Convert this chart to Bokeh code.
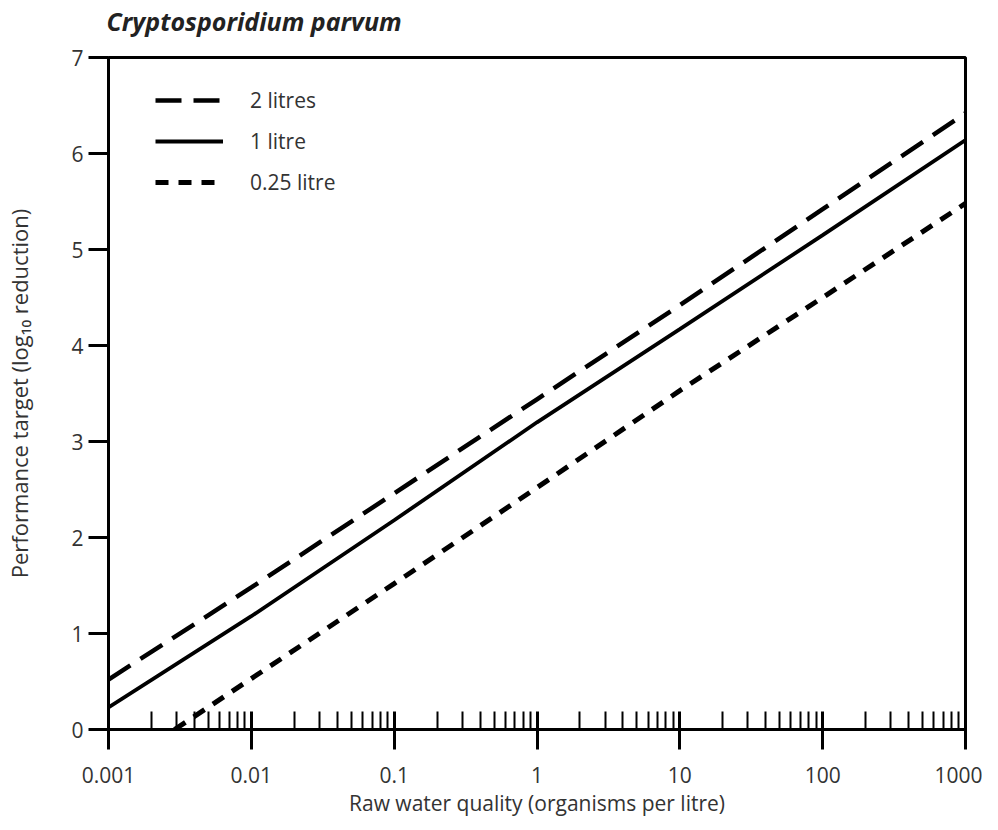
from bokeh.plotting import figure
from bokeh.models import FixedTicker, Legend, LegendItem, Range1d, Title
from bokeh.embed import file_html
from bokeh.resources import INLINE

# ---- data ----
x_decades = [0.001, 0.01, 0.1, 1, 10, 100, 1000]
y_2l = [0.52, 1.48, 2.46, 3.44, 4.42, 5.42, 6.42]
y_1l = [0.23, 1.18, 2.18, 3.20, 4.17, 5.15, 6.14]
x_025 = [0.0029, 0.01, 0.1, 1, 10, 100, 1000]
y_025 = [0.0, 0.53, 1.52, 2.52, 3.53, 4.50, 5.48]

title_text = "Cryptosporidium parvum"
series_labels = ["2 litres", "1 litre", "0.25 litre"]
x_tick_values = [0.001, 0.01, 0.1, 1, 10, 100, 1000]
x_tick_labels = ["0.001", "0.01", "0.1", "1", "10", "100", "1000"]
x_minor_mults = [2, 3, 4, 5, 6, 7, 8, 9]
y_tick_values = [0, 1, 2, 3, 4, 5, 6, 7]

FONT = "Open Sans"
TXT = "#333333"

p = figure(width=982, height=819, x_axis_type="log",
           x_range=Range1d(0.001, 1000), y_range=Range1d(0, 7),
           output_backend="svg", toolbar_location=None,
           min_border_left=108, min_border_right=17,
           min_border_top=57, min_border_bottom=90,
           title=title_text)

p.title.text_font = FONT
p.title.text_font_style = "bold italic"
p.title.text_font_size = "25px"
p.title.text_color = "#222222"
p.title.align = "left"
p.title.offset = -2
p.title.standoff = 0

# small empty spacer between the title and the plot frame
p.add_layout(Title(text=" ", text_font_size="8px", standoff=9,
                   text_color="white"), "above")

p.grid.visible = False
p.outline_line_color = "black"
p.outline_line_width = 3
p.outline_line_alpha = 1
p.background_fill_color = "white"
p.border_fill_color = "white"

minor = [m * d for d in x_tick_values[:-1] for m in x_minor_mults]
xa = p.xaxis[0]
xa.ticker = FixedTicker(ticks=x_tick_values, minor_ticks=minor)
xa.major_label_overrides = {v: l for v, l in zip(x_tick_values, x_tick_labels)}
xa.axis_line_width = 3
xa.major_tick_line_width = 3
xa.minor_tick_line_width = 2
xa.major_tick_in = 18
xa.major_tick_out = 20
xa.minor_tick_in = 18
xa.minor_tick_out = 0
xa.major_label_standoff = 17
xa.major_label_text_font = FONT
xa.major_label_text_font_size = "21px"
xa.major_label_text_color = TXT
xa.axis_label = "Raw water quality (organisms per litre)"
xa.axis_label_text_font = FONT
xa.axis_label_text_font_style = "normal"
xa.axis_label_text_font_size = "21px"
xa.axis_label_text_color = TXT
xa.axis_label_standoff = 3

ya = p.yaxis[0]
ya.ticker = FixedTicker(ticks=y_tick_values)
ya.axis_line_width = 3
ya.major_tick_line_width = 3
ya.major_tick_in = 0
ya.major_tick_out = 20
ya.minor_tick_line_color = None
ya.major_label_standoff = 5
ya.major_label_text_font = FONT
ya.major_label_text_font_size = "21px"
ya.major_label_text_color = TXT
ya.axis_label = "Performance target (log\u2081\u2080 reduction)"
ya.axis_label_text_font = FONT
ya.axis_label_text_font_style = "normal"
ya.axis_label_text_font_size = "22px"
ya.axis_label_text_color = TXT
ya.axis_label_standoff = 34

r2 = p.line(x_decades, y_2l, line_color="black", line_width=4.5, line_dash="26 12")
r1 = p.line(x_decades, y_1l, line_color="black", line_width=3.8)
r025 = p.line(x_025, y_025, line_color="black", line_width=5, line_dash="13 10")

legend = Legend(items=[LegendItem(label=series_labels[0], renderers=[r2]),
                       LegendItem(label=series_labels[1], renderers=[r1]),
                       LegendItem(label=series_labels[2], renderers=[r025])],
                location=(47, 532), padding=0, margin=0,
                glyph_width=68, glyph_height=30, label_height=30,
                spacing=11, label_standoff=27,
                border_line_alpha=0, background_fill_alpha=0,
                label_text_font=FONT, label_text_font_size="21px",
                label_text_color=TXT)
p.add_layout(legend, "center")

open("out.html", "w").write(file_html(p, INLINE))
